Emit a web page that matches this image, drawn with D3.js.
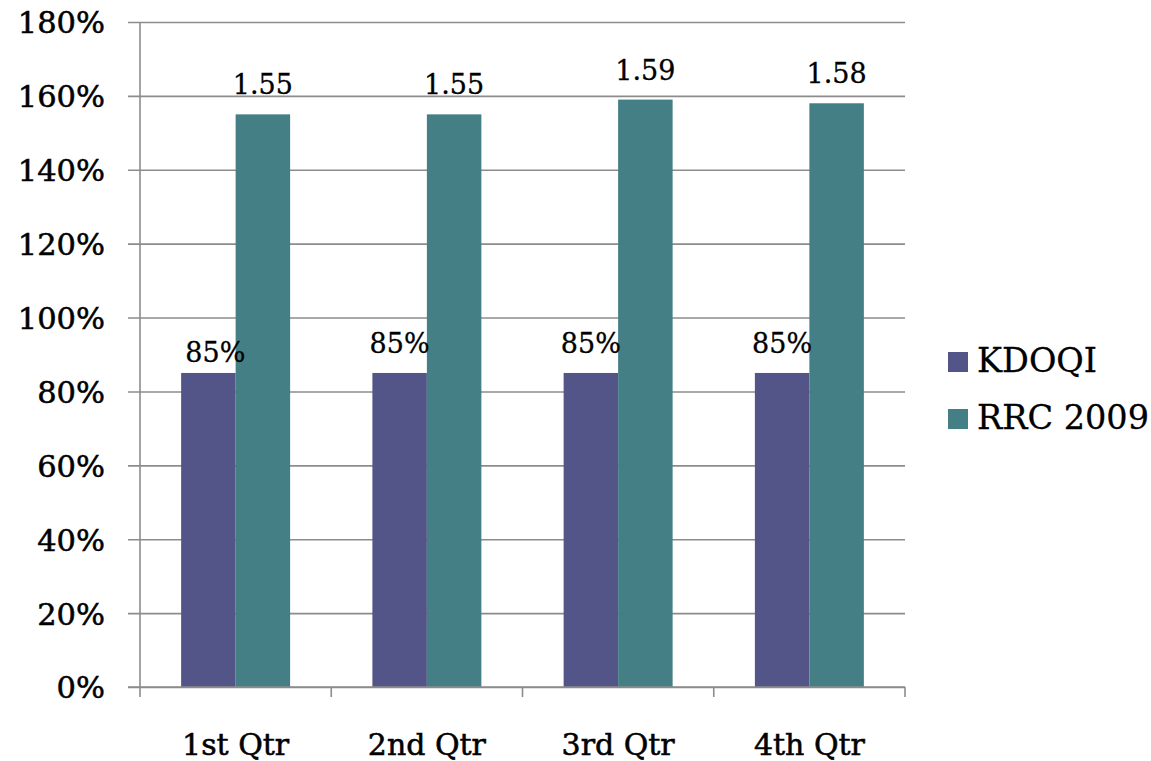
<!DOCTYPE html>
<html>
<head>
<meta charset="utf-8">
<script src="https://cdn.jsdelivr.net/npm/d3@7"></script>
<style>
  html, body { margin: 0; padding: 0; background: #fff; }
  svg { display: block; }
  text { font-family: "DejaVu Serif", "Liberation Serif", serif; fill: #000; }
  .heavy { stroke: #000; stroke-width: 0.55px; }
  .medium { stroke: #000; stroke-width: 0.3px; }
</style>
</head>
<body>
<svg id="chart" width="1151" height="761"></svg>
<script>
// Quarterly ratios per guideline
const categories = ["1st Qtr", "2nd Qtr", "3rd Qtr", "4th Qtr"];
const seriesNames = ["KDOQI", "RRC 2009"];
const kdoqiValues = [0.85, 0.85, 0.85, 0.85];
const rrcValues = [1.55, 1.55, 1.59, 1.58];
const kdoqiLabels = ["85%", "85%", "85%", "85%"];
const rrcLabels = ["1.55", "1.55", "1.59", "1.58"];
const yTicks = [0, 0.2, 0.4, 0.6, 0.8, 1.0, 1.2, 1.4, 1.6, 1.8];

const colors = { "KDOQI": "#535487", "RRC 2009": "#437f84" };
const gridColor = "#8c8c8c";

const svg = d3.select("#chart");
const plot = { left: 140, right: 905, top: 22, bottom: 687 };

const x0 = d3.scaleBand()
  .domain(categories)
  .range([plot.left, plot.right])
  .paddingInner(0)
  .paddingOuter(0);

const x1 = d3.scaleBand()
  .domain(seriesNames)
  .range([0, x0.bandwidth()])
  .paddingInner(0)
  .paddingOuter(0.755);

const y = d3.scaleLinear().domain([0, 1.8]).range([plot.bottom, plot.top]);

// Horizontal gridlines with short ticks left of the axis
const yAxis = d3.axisLeft(y)
  .tickValues(yTicks)
  .tickFormat(d3.format(".0%"))
  .tickSize(-(plot.right - plot.left + 12))
  .tickPadding(0);

const gy = svg.append("g")
  .attr("transform", `translate(${plot.left - 12},0)`)
  .call(yAxis);
gy.select(".domain").remove();
gy.selectAll(".tick line")
  .attr("stroke", gridColor)
  .attr("stroke-width", 1.6)
  .attr("x1", 0);
gy.selectAll(".tick text")
  .attr("class", "heavy")
  .attr("x", -23)
  .attr("dy", "0.36em")
  .attr("fill", "#000")
  .style("font-size", "30.5px")
  .style("font-family", '"DejaVu Serif", serif');

// Vertical axis line
svg.append("line")
  .attr("x1", plot.left).attr("x2", plot.left)
  .attr("y1", plot.top).attr("y2", plot.bottom)
  .attr("stroke", gridColor).attr("stroke-width", 1.6);

// Bars
const rows = categories.map((c, i) => ({
  cat: c,
  vals: [
    { s: "KDOQI", v: kdoqiValues[i], label: kdoqiLabels[i] },
    { s: "RRC 2009", v: rrcValues[i], label: rrcLabels[i] }
  ]
}));

const groups = svg.append("g").selectAll("g")
  .data(rows)
  .join("g")
  .attr("transform", d => `translate(${x0(d.cat)},0)`);

groups.selectAll("rect")
  .data(d => d.vals)
  .join("rect")
  .attr("x", d => x1(d.s))
  .attr("width", x1.bandwidth())
  .attr("y", d => y(d.v))
  .attr("height", d => y(0) - y(d.v))
  .attr("fill", d => colors[d.s]);

// Value labels; the first KDOQI label sits a little lower and to the right
const nudge = (cat, s) => (cat === "1st Qtr" && s === "KDOQI") ? [7, 9] : [0, 0];
groups.each(function(row) {
  d3.select(this).selectAll("text.val")
    .data(row.vals)
    .join("text")
    .attr("class", "val medium")
    .attr("x", d => x1(d.s) + x1.bandwidth() / 2 + nudge(row.cat, d.s)[0])
    .attr("y", d => y(d.v) - 20 + nudge(row.cat, d.s)[1])
    .attr("text-anchor", "middle")
    .style("font-size", "27px")
    .text(d => d.label);
});

// Category axis along the bottom
const xAxis = d3.axisBottom(x0).tickSize(0).tickPadding(0);
const gx = svg.append("g")
  .attr("transform", `translate(0,${plot.bottom})`)
  .call(xAxis);
gx.select(".domain")
  .attr("stroke", gridColor)
  .attr("stroke-width", 1.6)
  .attr("d", `M${plot.left - 12},0H${plot.right}`);
gx.selectAll(".tick text")
  .attr("class", "heavy")
  .attr("y", 68)
  .attr("dy", 0)
  .attr("fill", "#000")
  .style("font-size", "30px")
  .style("font-family", '"DejaVu Serif", serif');

// Separator ticks between categories
const boundaries = categories.map(c => x0(c)).concat([x0(categories[categories.length - 1]) + x0.bandwidth()]);
svg.append("g").selectAll("line")
  .data(boundaries)
  .join("line")
  .attr("x1", d => d).attr("x2", d => d)
  .attr("y1", plot.bottom).attr("y2", plot.bottom + 10)
  .attr("stroke", gridColor).attr("stroke-width", 1.6);

// Legend
const legend = svg.append("g").attr("transform", "translate(948,352)");
const items = legend.selectAll("g")
  .data(seriesNames)
  .join("g")
  .attr("transform", (d, i) => `translate(0,${i * 57})`);
items.append("rect")
  .attr("width", 20).attr("height", 20)
  .attr("fill", d => colors[d]);
items.append("text")
  .attr("class", "medium")
  .attr("x", 29).attr("y", 20)
  .style("font-size", "33.5px")
  .text(d => d);
</script>
</body>
</html>
